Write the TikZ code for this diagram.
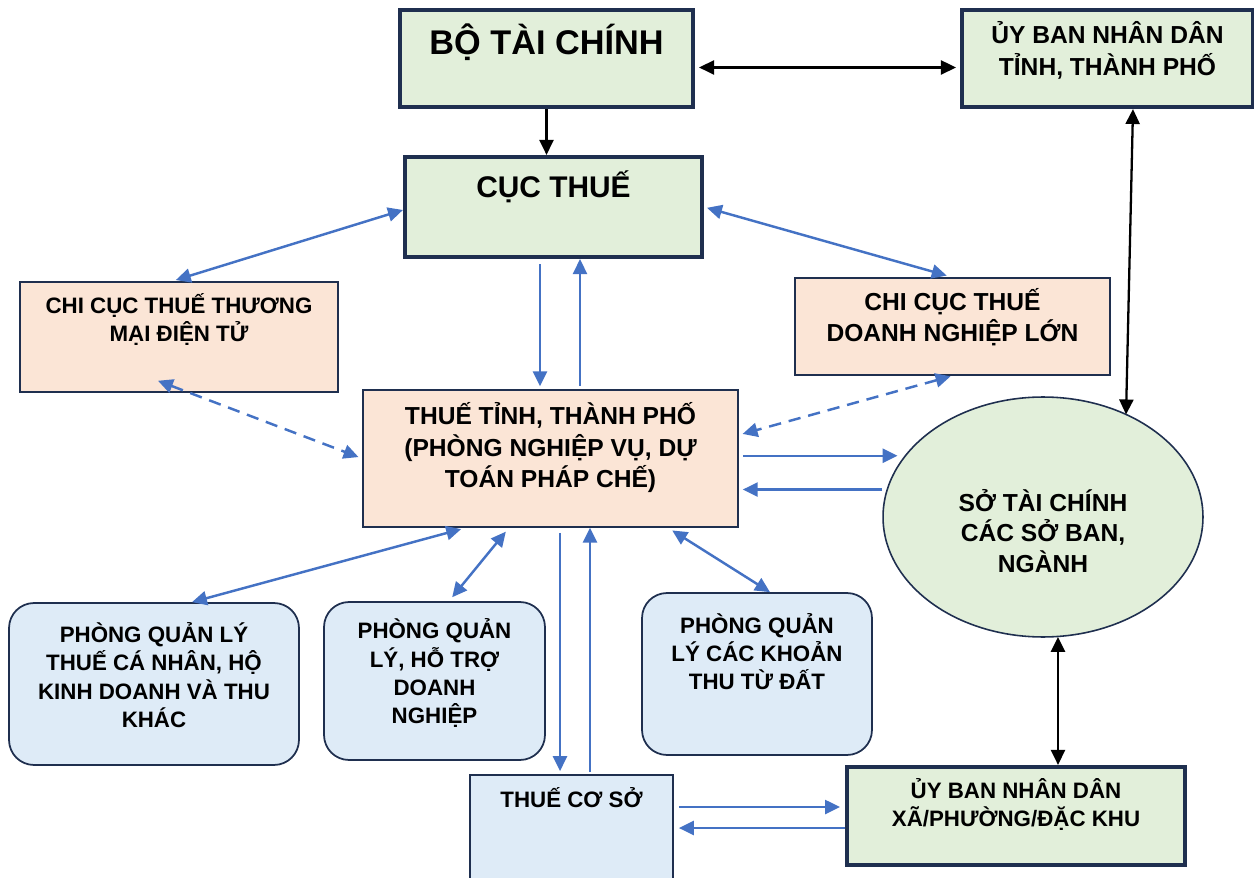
\documentclass[tikz,border=0pt]{standalone}
\usepackage{fontspec}
\setmainfont{Liberation Sans}
\usepackage{tikz}
\usetikzlibrary{arrows.meta,shapes.geometric}

\definecolor{khung}{HTML}{1F2F4F}
\definecolor{xanhla}{HTML}{E2EFDA}
\definecolor{camnhat}{HTML}{FBE5D6}
\definecolor{xanhnhat}{HTML}{DEEBF7}
\definecolor{muiten}{HTML}{4472C4}

\begin{document}
\begin{tikzpicture}[x=0.02cm, y=-0.02cm,
        >={Triangle[length=8.5pt,width=8pt]},
        khungday/.style={draw=khung, line width=2.4pt, fill=xanhla, rectangle, inner sep=0pt},
        khungcam/.style={draw=khung, line width=0.9pt, fill=camnhat, rectangle, inner sep=0pt},
        khungxanh/.style={draw=khung, line width=1pt, fill=xanhnhat, rectangle, rounded corners=0.5cm, inner sep=0pt},
        chu/.style={font=\bfseries\fontsize{14}{18}\selectfont, align=center, inner sep=0pt},
        chunho/.style={font=\bfseries\fontsize{12.7}{16}\selectfont, align=center, inner sep=0pt},
        den/.style={draw=black, line width=1.3pt},
        xanh/.style={draw=muiten, line width=1.4pt},
        gach/.style={xanh, dash pattern=on 7pt off 4.5pt}]
        \useasboundingbox (0,0) rectangle (1254,878);

        % cac khung
        \node[khungday, minimum width=5.86cm, minimum height=1.94cm] (btc) at (546.5,58.5) {};
        \node[font=\bfseries\fontsize{19.5}{23}\selectfont, inner sep=0pt] (btcChu) at ([yshift=-0.68cm]btc.north) {BỘ TÀI CHÍNH};
        \node[khungday, minimum width=5.82cm, minimum height=1.94cm] (ubt) at (1107.5,58.5) {};
        \node[chu] (ubtChu) at ([yshift=-0.85cm]ubt.north) {ỦY BAN NHÂN DÂN\\TỈNH, THÀNH PHỐ};
        \node[khungday, minimum width=5.94cm, minimum height=2cm] (cuc) at (553.5,207) {};
        \node[font=\bfseries\fontsize{17}{20}\selectfont, inner sep=0pt] (cucChu) at ([yshift=-0.64cm]cuc.north) {CỤC THUẾ};
        \node[khungcam, minimum width=6.36cm, minimum height=2.2cm] (tmdt) at (179,337) {};
        \node[chunho] (tmdtChu) at ([yshift=-0.76cm]tmdt.north) {CHI CỤC THUẾ THƯƠNG\\MẠI ĐIỆN TỬ};
        \node[khungcam, minimum width=6.3cm, minimum height=1.94cm] (dnl) at (952.5,326.5) {};
        \node[chu] (dnlChu) at ([yshift=-0.8cm]dnl.north) {CHI CỤC THUẾ\\DOANH NGHIỆP LỚN};
        \node[khungcam, minimum width=7.5cm, minimum height=2.74cm] (tinh) at (550.5,458.5) {};
        \node[chu] (tinhChu) at ([yshift=-1.17cm]tinh.north) {THUẾ TỈNH, THÀNH PHỐ\\(PHÒNG NGHIỆP VỤ, DỰ\\TOÁN PHÁP CHẾ)};
        \node[ellipse, draw=khung, line width=0.9pt, fill=xanhla, inner sep=0pt, outer sep=0pt, minimum width=6.4cm, minimum height=4.8cm] (so) at (1043,517) {};
        \node[chu, font=\bfseries\fontsize{14}{17.5}\selectfont] (soChu) at ([yshift=-0.28cm]so.center) {SỞ TÀI CHÍNH\\CÁC SỞ BAN,\\NGÀNH};
        \node[khungxanh, minimum width=5.8cm, minimum height=3.24cm] (p1) at (154,684) {};
        \node[chunho] (p1Chu) at ([yshift=-1.46cm]p1.north) {PHÒNG QUẢN LÝ\\THUẾ CÁ NHÂN, HỘ\\KINH DOANH VÀ THU\\KHÁC};
        \node[khungxanh, minimum width=4.42cm, minimum height=3.16cm] (p2) at (434.5,681) {};
        \node[chunho] (p2Chu) at ([yshift=-1.44cm]p2.north) {PHÒNG QUẢN\\LÝ, HỖ TRỢ\\DOANH\\NGHIỆP};
        \node[khungxanh, minimum width=4.6cm, minimum height=3.24cm] (p3) at (757,674) {};
        \node[chunho] (p3Chu) at ([yshift=-1.19cm]p3.north) {PHÒNG QUẢN\\LÝ CÁC KHOẢN\\THU TỪ ĐẤT};
        \node[khungxanh, rounded corners=0pt, minimum width=4.06cm, minimum height=2.12cm] (tcs) at (571.5,828) {};
        \node[chunho] (tcsChu) at ([yshift=-0.46cm]tcs.north) {THUẾ CƠ SỞ};
        \node[khungday, minimum width=6.76cm, minimum height=1.96cm] (ubx) at (1016,816) {};
        \node[chunho, font=\bfseries\fontsize{12.7}{15.5}\selectfont] (ubxChu) at ([yshift=-0.79cm]ubx.north) {ỦY BAN NHÂN DÂN\\XÃ/PHƯỜNG/ĐẶC KHU};

        % mui ten den
        \draw[den,->] (btc.south) -- (btc.south |- cuc.north);
        \draw[den,<->, shorten <=0.08cm, shorten >=0.08cm] ([yshift=-0.18cm]btc.east) -- ([yshift=-0.18cm]btc.east -| ubt.west);
        \draw[den,<->] ([xshift=0.51cm]ubt.south) -- (so.51);
        \draw[den,<->] ([xshift=0.3cm]so.south) -- ([xshift=0.3cm]so.south |- ubx.north);

        % mui ten xanh
        \draw[xanh,<->, shorten >=0.08cm] ([yshift=-0.06cm]cuc.west) -- ([xshift=-0.14cm]tmdt.north);
        \draw[xanh,<->, shorten <=0.06cm, shorten >=0.12cm] (cuc.east) -- (dnl.north);
        \draw[xanh,->, shorten <=0.1cm, shorten >=0.06cm] ([xshift=-0.27cm]cuc.south) -- ([xshift=-0.27cm]cuc.south |- tinh.north);
        \draw[xanh,->, shorten <=0.06cm] ([xshift=0.53cm]cuc.south |- tinh.north) -- ([xshift=0.53cm]cuc.south);
        \draw[xanh,->, shorten <=0.08cm, shorten >=0.16cm] (tinh.east |- so.156) -- (so.156);
        \draw[xanh,->, shorten <=0.1cm, shorten >=0.08cm] (so.170) -- (tinh.east |- so.170);
        \draw[xanh,<->, shorten <=0.1cm] ([xshift=-1.69cm]tinh.south) -- ([xshift=0.76cm]p1.north);
        \draw[xanh,<->, shorten <=0.1cm, shorten >=0.1cm] ([xshift=-0.83cm]tinh.south) -- ([xshift=0.29cm]p2.north);
        \draw[xanh,<->, shorten <=0.1cm] ([xshift=2.35cm]tinh.south) -- ([xshift=0.26cm]p3.north);
        \draw[xanh,->, shorten <=0.1cm, shorten >=0.06cm] ([xshift=0.19cm]tinh.south) -- ([xshift=0.19cm]tinh.south |- tcs.north);
        \draw[xanh,->, shorten <=0.04cm] ([xshift=0.79cm]tinh.south |- tcs.north) -- ([xshift=0.79cm]tinh.south);
        \draw[xanh,->, shorten <=0.1cm, shorten >=0.1cm] ([yshift=0.42cm]tcs.east) -- ([yshift=0.42cm]tcs.east -| ubx.west);
        \draw[xanh,->, shorten >=0.1cm] ([yshift=-0.24cm]ubx.west) -- ([yshift=-0.24cm]ubx.west -| tcs.east);

        % mui ten net dut
        \draw[gach,<->, shorten >=0.08cm] ([xshift=-0.42cm,yshift=0.24cm]tmdt.south) -- (tinh.west);
        \draw[gach,<->, shorten <=0.04cm, shorten >=0.08cm] (dnl.south) -- ([yshift=0.47cm]tinh.east);
\end{tikzpicture}
\end{document}
